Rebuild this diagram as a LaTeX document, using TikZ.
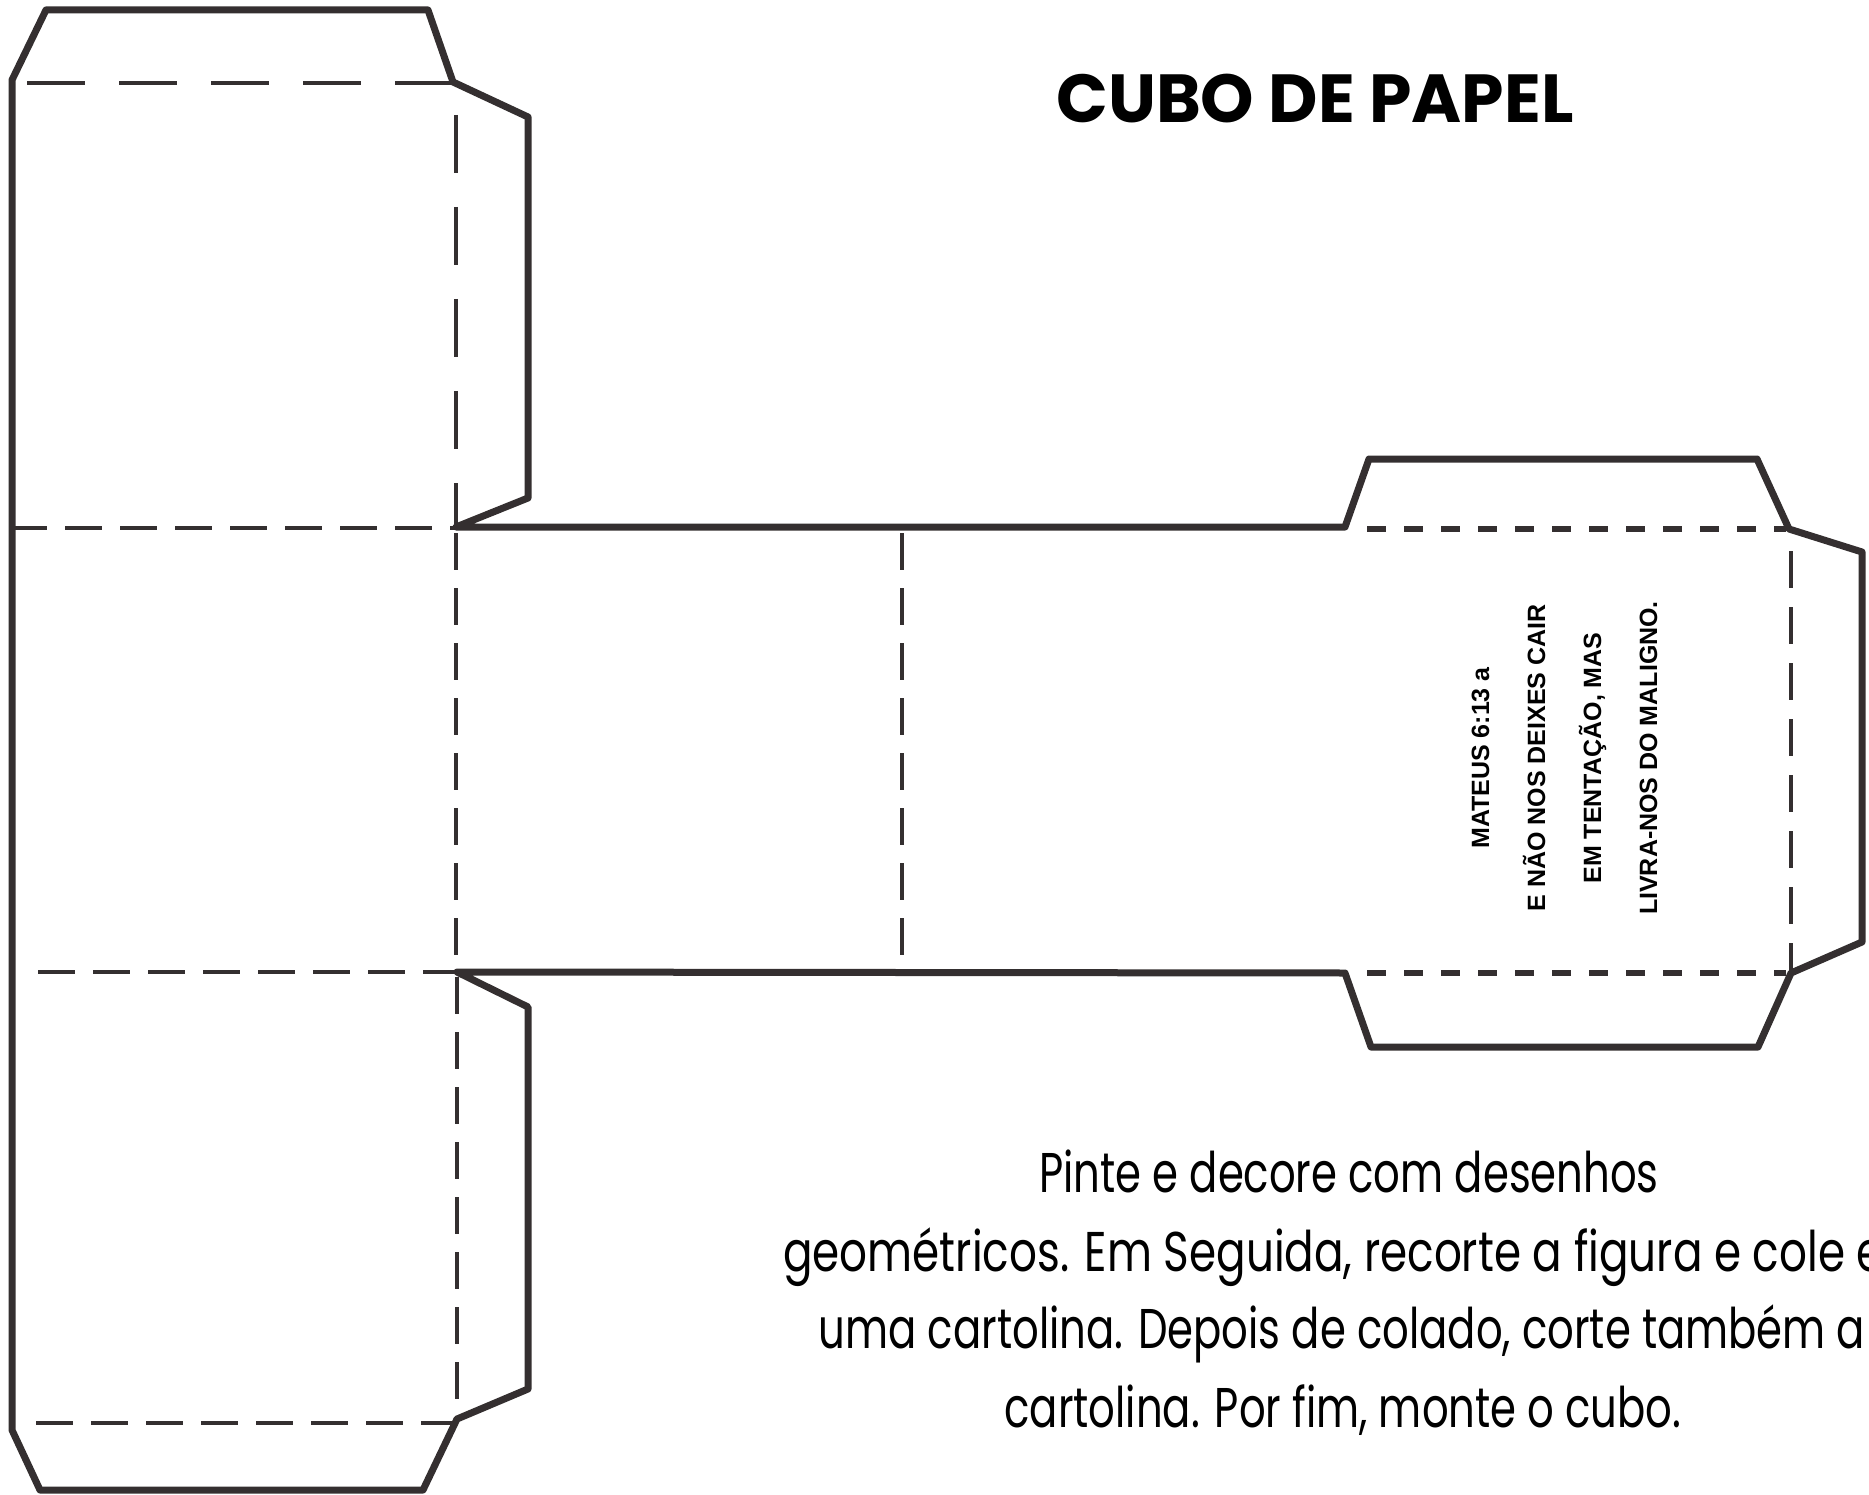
\documentclass[tikz,border=0pt]{standalone}
\usepackage{fontspec}
\setmainfont{Poppins}
\newfontfamily\versefont{Liberation Sans}
\definecolor{ink}{RGB}{52,47,48}
\newcommand{\bodyline}[2][0.746]{\scalebox{#1}[1]{#2}}
\tikzset{
  cutline/.style={draw=ink, line width=7pt, line join=round},
  foldlong/.style={draw=ink, line width=4pt, dash pattern=on 58pt off 34pt},
  foldshort/.style={draw=ink, line width=4pt, dash pattern=on 37pt off 18pt},
  foldbold/.style={draw=ink, line width=6.5pt, dash pattern=on 19pt off 18pt},
  foldvert/.style={draw=ink, line width=4pt, dash pattern=on 37pt off 19pt},
  titletext/.style={font=\fontsize{68}{80}\selectfont\bfseries, text=black, inner sep=0pt},
  bodytext/.style={font=\fontsize{56}{66}\selectfont, text=black, inner sep=0pt, anchor=base},
  versetext/.style={font=\versefont\fontsize{25}{30}\selectfont\bfseries, text=black, inner sep=0pt, rotate=90, anchor=base}
}
\begin{document}
\begin{tikzpicture}[x=1pt, y=-1pt]
\useasboundingbox (0,0) rectangle (1869,1495);
% outline coordinates
\coordinate (A) at (12,80);
\coordinate (B) at (46,10);
\coordinate (C) at (428,10);
\coordinate (D) at (453,82);
\coordinate (E) at (528,117);
\coordinate (F) at (528,498);
\coordinate (G) at (456,527);
\coordinate (H) at (1345,527);
\coordinate (I) at (1369,459);
\coordinate (J) at (1757,459);
\coordinate (K) at (1789,529);
\coordinate (L) at (1862,552);
\coordinate (M) at (1862,942);
\coordinate (N) at (1791,973);
\coordinate (O) at (1758,1047);
\coordinate (P) at (1371,1047);
\coordinate (Q) at (1345,973);
\coordinate (R) at (457,972);
\coordinate (S) at (528,1007);
\coordinate (T) at (528,1389);
\coordinate (U) at (457,1419);
\coordinate (V) at (423,1490);
\coordinate (W) at (40,1490);
\coordinate (X) at (12,1430);
% fold lines, left column
\draw[foldlong] (27,83) -- (453,83);
\draw[foldlong] (456,115) -- (456,527);
\draw[foldshort] (10,528) -- (456,528);
\draw[foldshort] (456,533) -- (456,972);
\draw[foldshort] (38,972) -- (456,972);
\draw[foldshort] (457,977) -- (457,1423);
\draw[foldshort] (36,1423) -- (457,1423);
% middle fold
\draw[foldshort] (902,533) -- (902,960);
% right box folds
\draw[foldbold] (1367,529) -- (1786,529);
\draw[foldbold] (1367,973) -- (1786,973);
\draw[foldvert] (1791,551) -- (1791,971);
% outline
\draw[cutline] (A) -- (B) -- (C) -- (D) -- (E) -- (F) -- (G) -- (H) -- (I) -- (J) -- (K) -- (L) -- (M) -- (N) -- (O) -- (P) -- (Q) -- (R) -- (S) -- (T) -- (U) -- (V) -- (W) -- (X) -- cycle;
% title
\node[titletext] (title) at (1315,99) {CUBO DE PAPEL};
% verse
\node[versetext] (v1) at (1489,758) {MATEUS 6:13 a};
\node[versetext] (v2) at (1545,758) {E NÃO NOS DEIXES CAIR};
\node[versetext] (v3) at (1601,758) {EM TENTAÇÃO, MAS};
\node[versetext] (v4) at (1657,758) {LIVRA-NOS DO MALIGNO.};
% instructions
\node[bodytext] (b1) at (1349,1192) {\bodyline{Pinte e decore com desenhos}};
\node[bodytext, anchor=base west] (b2) at (783,1271) {\bodyline[0.78]{geométricos. Em Seguida, recorte a figura e cole em}};
\node[bodytext] (b3) at (1342,1348) {\bodyline{uma cartolina. Depois de colado, corte também a}};
\node[bodytext] (b4) at (1343,1427) {\bodyline{cartolina. Por fim, monte o cubo.}};
\end{tikzpicture}
\end{document}
